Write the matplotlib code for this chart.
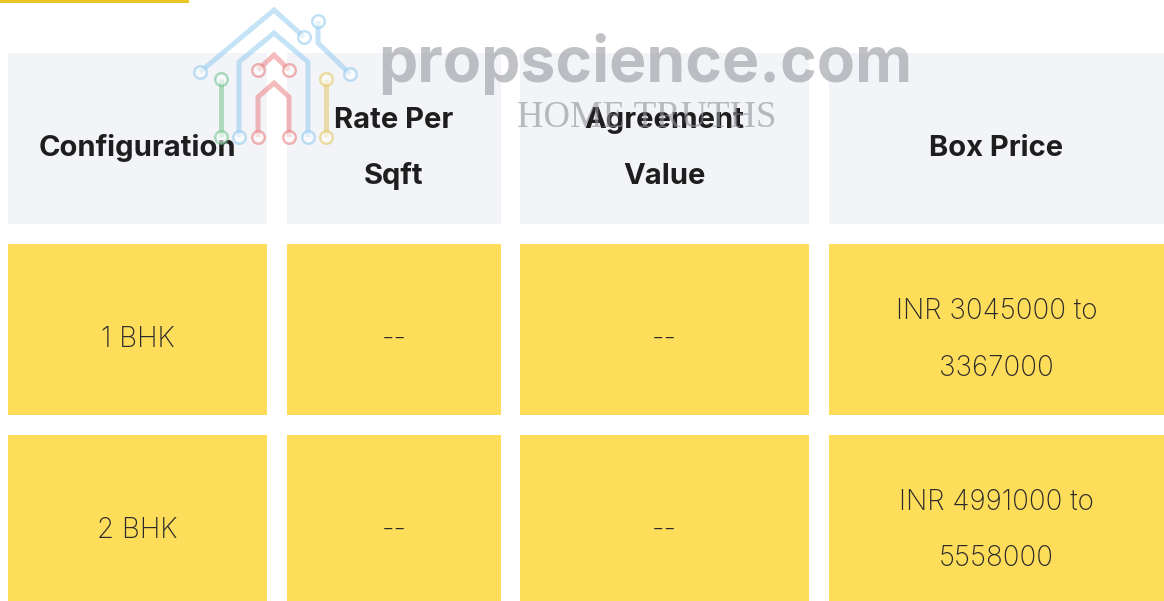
import matplotlib.pyplot as plt
from matplotlib.patches import Rectangle

# table content
headers = [["Configuration"], ["Rate Per", "Sqft"], ["Agreement", "Value"], ["Box Price"]]
rows = [
    [["1 BHK"], ["--"], ["--"], ["INR 3045000 to", "3367000"]],
    [["2 BHK"], ["--"], ["--"], ["INR 4991000 to", "5558000"]],
]

# layout in pixels
W, H = 1164, 601
col_edges = [(8, 267), (287, 501), (520, 809), (829, 1164)]
row_edges = [(53, 224), (244, 415), (435, 606)]
HEAD_BG = "#F3F4F8"
CELL_BG = "#FEDD5A"
ACCENT = "#EBC526"

fig = plt.figure(figsize=(W / 100, H / 100), dpi=100)
ax = fig.add_axes([0, 0, 1, 1])
ax.set_xlim(0, W)
ax.set_ylim(H, 0)
ax.axis("off")

# yellow accent bar at top left
ax.add_patch(Rectangle((0, 0), 189, 3, color=ACCENT, lw=0))


def cell_text(x0, x1, y0, y1, lines, **kw):
    cx = (x0 + x1) / 2
    mid = (y0 + y1) / 2
    if len(lines) == 1:
        ys = [mid + 17.5]
    else:
        ys = [mid - 11, mid + 46]
    for y, s in zip(ys, lines):
        ax.text(cx, y, s, ha="center", va="baseline", **kw)


all_rows = [headers] + rows
for r, row in enumerate(all_rows):
    y0, y1 = row_edges[r]
    bg = HEAD_BG if r == 0 else CELL_BG
    for c, lines in enumerate(row):
        x0, x1 = col_edges[c]
        ax.add_patch(Rectangle((x0, y0), x1 - x0, y1 - y0, color=bg, lw=0))
        if r == 0:
            cell_text(x0, x1, y0, y1, lines, fontsize=21, fontweight="bold",
                      color="#1E1E1E", family="Inter")
        else:
            cell_text(x0, x1, y0, y1, lines, fontsize=20, fontweight="light",
                      color="#2A2A2A", family="Inter")

# watermark logo (house made of circuit lines)
logo = [
    ("#8CC8EE", [(200, 72), (274, 10), (304, 37)], [0, 2]),
    ("#8CC8EE", [(318, 21), (318, 43), (350, 74)], [0, 2]),
    ("#8CC8EE", [(239, 137), (239, 62), (274, 33), (308, 62), (308, 137)], [0, 4]),
    ("#E87878", [(258, 70), (274, 55), (289, 70)], [0, 2]),
    ("#E87878", [(258, 137), (258, 97), (274, 83), (289, 97), (289, 137)], [0, 4]),
    ("#6CC28A", [(221, 79), (221, 137)], [0, 1]),
    ("#E3C65A", [(326, 79), (326, 137)], [0, 1]),
]
for color, pts, ends in logo:
    xs = [p[0] for p in pts]
    ys = [p[1] for p in pts]
    ax.plot(xs, ys, color=color, lw=3.6, alpha=0.5, solid_joinstyle="miter",
            solid_capstyle="butt", zorder=5)
    ax.plot([xs[i] for i in ends], [ys[i] for i in ends], "o", ms=9,
            mfc="white", mec=color, mew=1.8, alpha=0.55, zorder=6)

ax.text(378, 82, "propscience.com", fontsize=45, fontweight="bold", family="Inter",
        color="#8E9096", alpha=0.55, ha="left", va="baseline", zorder=4)
ax.text(517, 127, "HOME TRUTHS", fontsize=26.5, family="Liberation Serif",
        color="#8E9096", alpha=0.6, ha="left", va="baseline", zorder=4)

fig.savefig("out.png", dpi=100)
